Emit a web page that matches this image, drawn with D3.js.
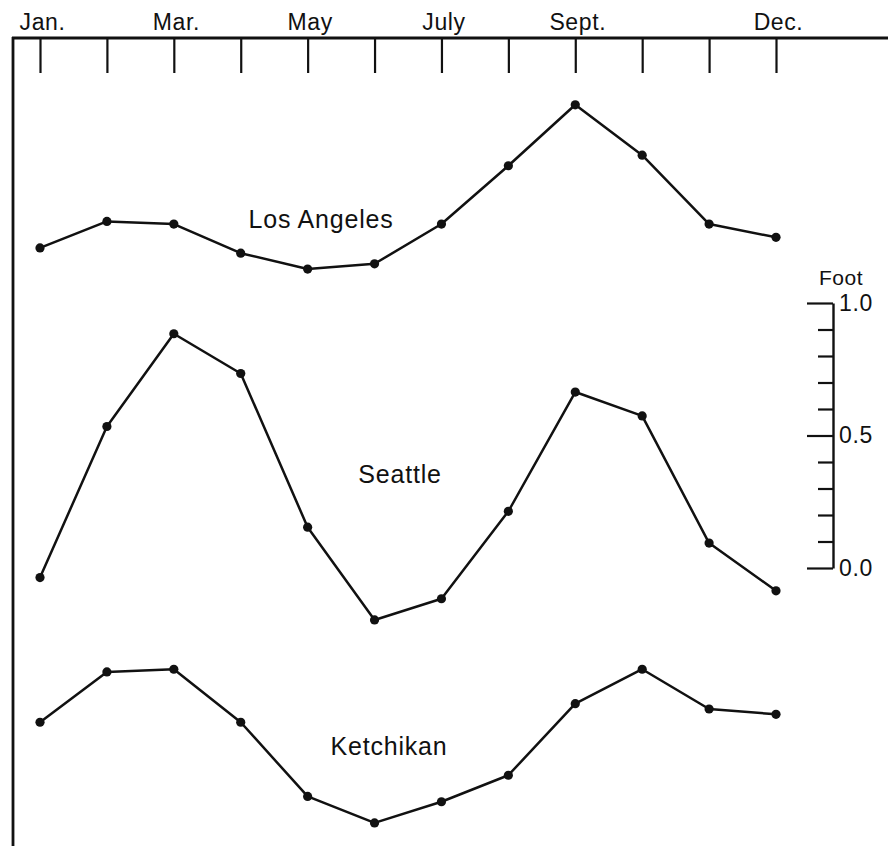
<!DOCTYPE html>
<html>
<head>
<meta charset="utf-8">
<script src="https://cdn.jsdelivr.net/npm/d3@7/dist/d3.min.js"></script>
<style>
  html, body { margin: 0; padding: 0; background: #fff; }
  svg { display: block; }
  text { font-family: "Liberation Sans", Arial, Helvetica, sans-serif; fill: #111; }
</style>
</head>
<body>
<svg id="chart" width="888" height="846"></svg>
<script>
// ---- Data (feet, each series measured from its own lowest month) ----
const months = ["Jan", "Feb", "Mar", "Apr", "May", "Jun", "Jul", "Aug", "Sep", "Oct", "Nov", "Dec"];
const monthLabels = ["Jan.", "", "Mar.", "", "May", "", "July", "", "Sept.", "", "", "Dec."];
const seriesNames = ["Los Angeles", "Seattle", "Ketchikan"];
const losAngeles = [0.08, 0.18, 0.17, 0.06, 0.00, 0.02, 0.17, 0.39, 0.62, 0.43, 0.17, 0.12];
const seattle    = [0.16, 0.73, 1.08, 0.93, 0.35, 0.00, 0.08, 0.41, 0.86, 0.77, 0.29, 0.11];
const ketchikan  = [0.38, 0.57, 0.58, 0.38, 0.10, 0.00, 0.08, 0.18, 0.45, 0.58, 0.43, 0.41];
const scaleTicks = [0, 0.1, 0.2, 0.3, 0.4, 0.5, 0.6, 0.7, 0.8, 0.9, 1.0];
const scaleLabels = [0, 0.5, 1.0];
const scaleTitle = "Foot";

// ---- Layout ----
const layout = {
  frameLeft: 13, frameTop: 38, width: 888, height: 846,
  xFirst: 40, xLast: 776,
  scaleX: 833, scaleZeroY: 568, scaleOneY: 303,
  // vertical placement of each curve (its lowest month), in feet on the scale
  offsets: [1.128, -0.196, -0.962],
  labels: [ {x: 321, y: 228}, {x: 400, y: 483}, {x: 389, y: 755} ]
};

const svg = d3.select("#chart");
const ink = "#111";

const x = d3.scalePoint().domain(months).range([layout.xFirst, layout.xLast]);
const y = d3.scaleLinear().domain([0, 1]).range([layout.scaleZeroY, layout.scaleOneY]);

// Frame: top line and left border
svg.append("line")
  .attr("x1", layout.frameLeft - 1).attr("x2", layout.width)
  .attr("y1", layout.frameTop).attr("y2", layout.frameTop)
  .attr("stroke", ink).attr("stroke-width", 2.8);
svg.append("line")
  .attr("x1", layout.frameLeft).attr("x2", layout.frameLeft)
  .attr("y1", layout.frameTop - 1).attr("y2", layout.height)
  .attr("stroke", ink).attr("stroke-width", 2.8);

// Top month axis
const xAxis = d3.axisTop(x)
  .tickSize(-35)
  .tickPadding(9)
  .tickFormat((d, i) => monthLabels[i]);
const gx = svg.append("g")
  .attr("transform", `translate(0,${layout.frameTop})`)
  .call(xAxis);
gx.select(".domain").remove();
gx.selectAll(".tick line").attr("stroke", ink).attr("stroke-width", 2.2);
gx.selectAll(".tick text")
  .attr("y", -8)
  .attr("dx", "2")
  .style("font-size", "23px")
  .style("letter-spacing", "0.6px")
  .attr("fill", ink);

// Right foot scale
const minorAxis = d3.axisLeft(y)
  .tickValues(scaleTicks)
  .tickSize(15)
  .tickSizeOuter(0)
  .tickFormat("");
const gs = svg.append("g")
  .attr("transform", `translate(${layout.scaleX},0)`)
  .call(minorAxis);
gs.select(".domain").attr("stroke", ink).attr("stroke-width", 2.4);
gs.selectAll(".tick line")
  .attr("stroke", ink).attr("stroke-width", 2.2)
  .attr("x2", d => scaleLabels.some(v => Math.abs(v - d) < 1e-9) ? -26 : -15);

const labelAxis = d3.axisRight(y)
  .tickValues(scaleLabels)
  .tickSize(0)
  .tickPadding(6)
  .tickFormat(d3.format(".1f"));
const gl = svg.append("g")
  .attr("transform", `translate(${layout.scaleX},0)`)
  .call(labelAxis);
gl.select(".domain").remove();
gl.selectAll(".tick text")
  .style("font-size", "23px")
  .style("letter-spacing", "0.6px")
  .attr("fill", ink);

svg.append("text")
  .attr("x", 841).attr("y", 285)
  .attr("text-anchor", "middle")
  .style("font-size", "21px")
  .style("letter-spacing", "0.5px")
  .text(scaleTitle);

// Curves
const allSeries = [losAngeles, seattle, ketchikan];
const line = d3.line()
  .x((d, i) => x(months[i]))
  .y(d => y(d));

allSeries.forEach((vals, s) => {
  const shifted = vals.map(v => v + layout.offsets[s]);
  const g = svg.append("g");
  g.append("path")
    .datum(shifted)
    .attr("d", line)
    .attr("fill", "none")
    .attr("stroke", ink)
    .attr("stroke-width", 2.5)
    .attr("stroke-linejoin", "round");
  g.selectAll("circle")
    .data(shifted)
    .join("circle")
    .attr("cx", (d, i) => x(months[i]))
    .attr("cy", d => y(d))
    .attr("r", 4.6)
    .attr("fill", ink);
  g.append("text")
    .attr("x", layout.labels[s].x)
    .attr("y", layout.labels[s].y)
    .attr("text-anchor", "middle")
    .style("font-size", "25px")
    .style("letter-spacing", "0.8px")
    .text(seriesNames[s]);
});
</script>
</body>
</html>
